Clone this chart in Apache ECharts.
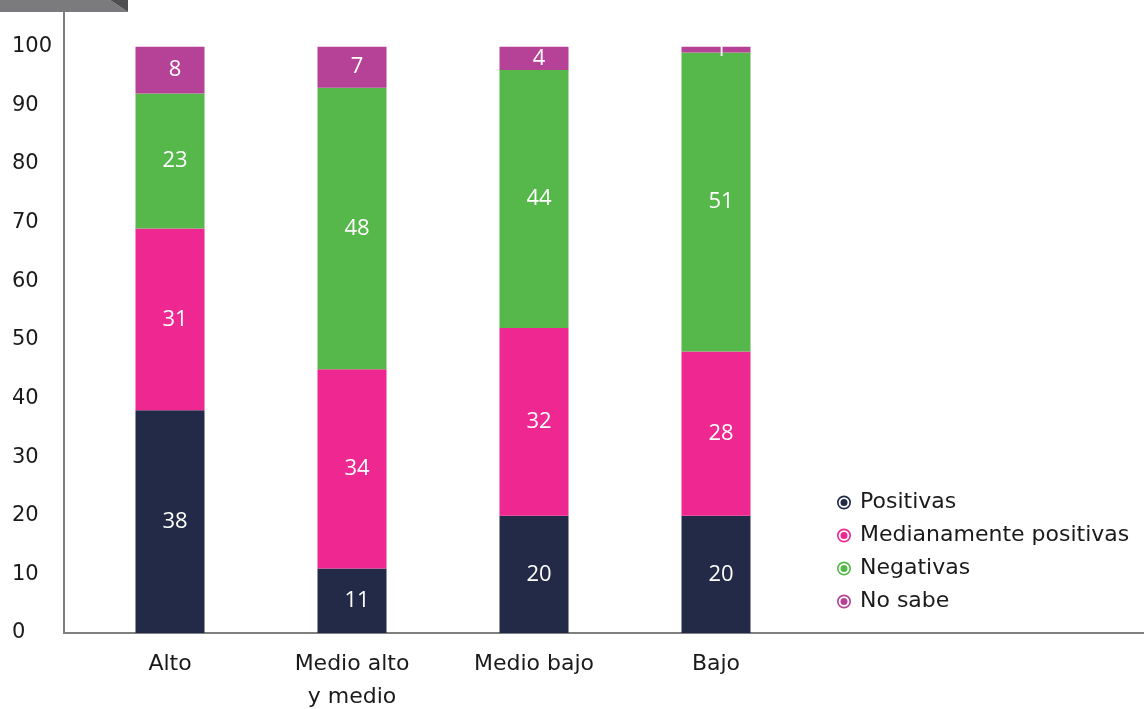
<!DOCTYPE html>
<html>
<head>
<meta charset="utf-8">
<title>Valoraciones por nivel</title>
<script src="https://cdn.jsdelivr.net/npm/echarts@6/dist/echarts.min.js"></script>
<style>
  html, body { margin: 0; padding: 0; background: #ffffff; }
  #chart { width: 1144px; height: 709px; }
</style>
</head>
<body>
<div id="chart"></div>
<script>
// Nivel socioeconómico (two trailing blank slots keep the plot area wide)
const categories = ['Alto', 'Medio alto\ny medio', 'Medio bajo', 'Bajo', '', ''];

// Percentages per answer, stacked bottom to top
const positivas = [38, 11, 20, 20];
const medianamente = [31, 34, 32, 28];
const negativas = [23, 48, 44, 51];
const noSabe = [8, 7, 4, 1];

const seriesNames = ['Positivas', 'Medianamente positivas', 'Negativas', 'No sabe'];
const colors = ['#222a47', '#ee2890', '#56b84a', '#b64297'];
const yTicks = [0, 10, 20, 30, 40, 50, 60, 70, 80, 90, 100];

// Radio-button style marker: outer ring, white gap, inner dot
const ringIcon = 'path://M6,0A6,6 0 1,1 6,12A6,6 0 1,1 6,0Z' +
  'M6,1.4A4.6,4.6 0 1,0 6,10.6A4.6,4.6 0 1,0 6,1.4Z' +
  'M6,3A3,3 0 1,1 6,9A3,3 0 1,1 6,3Z';

const labelFont = '"Open Sans", "Noto Sans", sans-serif';
const textFont = '"DejaVu Sans", "Noto Sans", sans-serif';

function makeSeries(name, values, color) {
  return {
    name: name,
    type: 'bar',
    stack: 'total',
    barWidth: 69,
    data: values,
    itemStyle: { color: color },
    label: {
      show: true,
      position: 'inside',
      offset: [5, 0],
      color: '#ffffff',
      fontFamily: labelFont,
      fontSize: 22
    },
    emphasis: { disabled: true }
  };
}

const chart = echarts.init(document.getElementById('chart'), null, { renderer: 'canvas' });

chart.setOption({
  animation: false,
  backgroundColor: '#ffffff',
  grid: {
    left: 79, width: 1092, top: -12, bottom: 76,
    containLabel: false,
    outerBoundsMode: 'none'
  },
  xAxis: {
    type: 'category',
    data: categories,
    axisLine: { show: true, lineStyle: { color: '#7f7f7f', width: 2 } },
    axisTick: { show: false },
    axisLabel: {
      color: '#1a1a1a',
      fontFamily: textFont,
      fontSize: 22,
      lineHeight: 33,
      margin: 15
    }
  },
  yAxis: {
    type: 'value',
    min: 0,
    max: 110,
    interval: 10,
    offset: 15,
    splitLine: { show: false },
    axisLine: { show: true, lineStyle: { color: '#7f7f7f', width: 2 } },
    axisTick: { show: false },
    axisLabel: {
      color: '#1a1a1a',
      fontFamily: textFont,
      fontSize: 21,
      align: 'left',
      margin: 52,
      formatter: function (v) { return yTicks.indexOf(v) >= 0 ? String(v) : ''; }
    }
  },
  legend: {
    orient: 'vertical',
    left: 832,
    top: 486,
    itemWidth: 14,
    itemHeight: 14,
    itemGap: 10,
    icon: ringIcon,
    data: seriesNames,
    textStyle: {
      color: '#1a1a1a',
      fontFamily: textFont,
      fontSize: 22,
      lineHeight: 23,
      padding: [0, 0, 0, 4]
    },
    selectedMode: false
  },
  graphic: [
    // corner segment joining the two axis lines
    {
      type: 'line',
      shape: { x1: 63, y1: 633, x2: 80, y2: 633 },
      style: { stroke: '#7f7f7f', lineWidth: 2 },
      z: 10
    },
    // header tab in the upper left corner
    {
      type: 'polygon',
      shape: { points: [[0, 0], [110, 0], [128, 12], [0, 12]] },
      style: { fill: '#7b7b7d' },
      z: 20
    },
    {
      type: 'polygon',
      shape: { points: [[110, 0], [128, 0], [128, 12]] },
      style: { fill: '#4f4f51' },
      z: 20
    }
  ],
  series: [
    makeSeries(seriesNames[0], positivas, colors[0]),
    makeSeries(seriesNames[1], medianamente, colors[1]),
    makeSeries(seriesNames[2], negativas, colors[2]),
    makeSeries(seriesNames[3], noSabe, colors[3])
  ]
});
</script>
</body>
</html>
